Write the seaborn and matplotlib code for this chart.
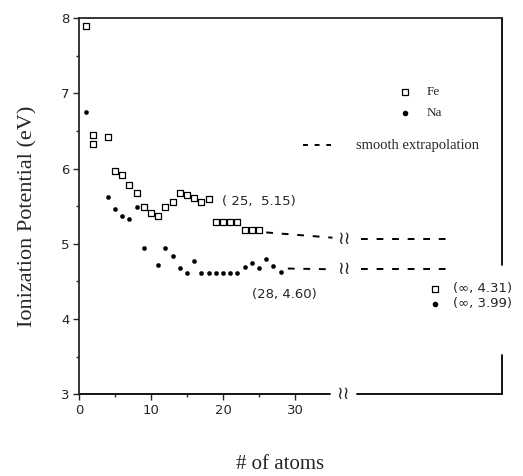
import numpy as np
import pandas as pd
import matplotlib
matplotlib.use("Agg")
import matplotlib.pyplot as plt
import seaborn as sns

# ---- data ----
fe_n = [1, 2, 2, 4, 5, 6, 7, 8, 9, 10, 11, 12, 13, 14, 15, 16, 17, 18, 19, 20, 21, 22, 23, 24, 25]
fe_ip = [7.90, 6.45, 6.32, 6.42, 5.97, 5.92, 5.78, 5.67, 5.49, 5.41, 5.37, 5.49, 5.55, 5.67, 5.65,
         5.61, 5.55, 5.59, 5.29, 5.29, 5.29, 5.29, 5.18, 5.18, 5.18]

na_n = [1, 4, 5, 6, 7, 8, 9, 11, 12, 13, 14, 15, 16, 17, 18, 19, 20, 21, 22, 23, 24, 25, 26, 27, 28]
na_ip = [6.75, 5.62, 5.46, 5.37, 5.33, 5.49, 4.94, 4.72, 4.94, 4.84, 4.68, 4.61, 4.77, 4.61, 4.61,
         4.61, 4.61, 4.61, 4.61, 4.69, 4.75, 4.68, 4.80, 4.70, 4.62]

# smooth extrapolation (two pieces, either side of the axis break)
fe_ext_n1 = [26, 35.2]
fe_ext_ip1 = [5.15, 5.08]
fe_ext_n2 = [39.2, 51.8]
fe_ext_ip2 = [5.06, 5.06]
na_ext_n1 = [29, 35.2]
na_ext_ip1 = [4.67, 4.66]
na_ext_n2 = [39.2, 51.8]
na_ext_ip2 = [4.67, 4.67]
break_n = 36.8

# points "at infinity", drawn at a stand-in position on the axis
inf_pos = 49.4
inf_drawn = [4.40, 4.20]
inf_labels = ["(\u221e, 4.31)", "(\u221e, 3.99)"]

fe = pd.DataFrame({"n": fe_n, "ip": fe_ip})
na = pd.DataFrame({"n": na_n, "ip": na_ip})

sns.set_style("ticks")
plt.rcParams["font.family"] = ["DejaVu Sans"]

fig = plt.figure(figsize=(5.23, 4.76), dpi=100)
ax = fig.add_axes([0.151, 0.172, 0.809, 0.790])

sns.scatterplot(data=fe, x="n", y="ip", marker="s", s=18, facecolor="white",
                edgecolor="black", linewidth=0.9, ax=ax, zorder=3)
sns.scatterplot(data=na, x="n", y="ip", marker="o", s=9, color="black",
                edgecolor="black", linewidth=0.3, ax=ax, zorder=3)

dash = (0, (3.5, 4.5))
for xs, ys in [(fe_ext_n1, fe_ext_ip1), (fe_ext_n2, fe_ext_ip2),
               (na_ext_n1, na_ext_ip1), (na_ext_n2, na_ext_ip2)]:
    sns.lineplot(x=xs, y=ys, color="black", lw=1.4, linestyle=dash, ax=ax)
for y in [fe_ext_ip2[0], na_ext_ip2[0]]:
    ax.text(break_n, y, "\u2240\u2240", ha="center", va="center", fontsize=13)

# infinity points
ax.scatter([inf_pos], [inf_drawn[0]], marker="s", s=16, facecolor="white",
           edgecolor="black", linewidth=0.9, zorder=3)
ax.scatter([inf_pos], [inf_drawn[1]], marker="o", s=9, color="black", zorder=3)
for y, lab in zip(inf_drawn, inf_labels):
    ax.text(inf_pos + 2.6, y, lab, ha="left", va="center", fontsize=9.5, clip_on=False)

ax.text(fe_n[-1], 5.56, "( 25,  5.15)", ha="center", va="center", fontsize=9.5)
ax.text(na_n[-1] + 0.5, 4.32, "(28, 4.60)", ha="center", va="center", fontsize=9.5)

# legend drawn by hand
ax.plot([0.771], [0.803], marker="s", ms=4, mfc="white", mec="black", mew=0.9,
        transform=ax.transAxes, clip_on=False)
ax.text(0.822, 0.803, "Fe", transform=ax.transAxes, va="center", fontsize=9.5,
        family="Liberation Serif")
ax.plot([0.771], [0.747], marker="o", ms=3, color="black",
        transform=ax.transAxes, clip_on=False)
ax.text(0.822, 0.747, "Na", transform=ax.transAxes, va="center", fontsize=9.5,
        family="Liberation Serif")
ax.plot([0.53, 0.595], [0.662, 0.662], color="black", lw=1.4, linestyle=(0, (2.5, 3.5)),
        transform=ax.transAxes)
ax.text(0.655, 0.662, "smooth extrapolation", transform=ax.transAxes, va="center",
        fontsize=10.5, family="Liberation Serif", clip_on=False)

ax.set_xlim(0, 58.75)
ax.set_ylim(3, 8)
ax.set_xticks([0, 10, 20, 30])
ax.set_xticks([5, 15, 25], minor=True)
ax.set_yticks([3, 4, 5, 6, 7, 8])
ax.set_yticks([3.5, 4.5, 5.5, 6.5, 7.5], minor=True)
ax.tick_params(which="major", length=4, width=1, labelsize=9.5, pad=3)
ax.tick_params(which="minor", length=2.5, width=1)

# broken right / bottom spines
ax.spines["right"].set_visible(False)
ax.spines["bottom"].set_visible(False)
for s in ["left", "top"]:
    ax.spines[s].set_linewidth(1.3)
kw = dict(color="black", lw=1.3, transform=ax.transAxes, clip_on=False)
ax.plot([1, 1], [1, 0.343], **kw)
ax.plot([1, 1], [0.104, 0], **kw)
ax.plot([0, 0.593], [0, 0], **kw)
ax.plot([0.657, 1], [0, 0], **kw)
ax.text(0.625, 0, "\u2240\u2240", transform=ax.transAxes, ha="center", va="center",
        fontsize=13)

ax.set_xlabel("")
ax.set_ylabel("")
fig.text(0.054, 0.545, "Ionization Potential (eV)", rotation=90, ha="center", va="center",
         fontsize=16, family="Liberation Serif")
fig.text(0.535, 0.025, "# of atoms", ha="center", va="center", fontsize=15,
         family="Liberation Serif")

fig.savefig("out.png", dpi=100)
